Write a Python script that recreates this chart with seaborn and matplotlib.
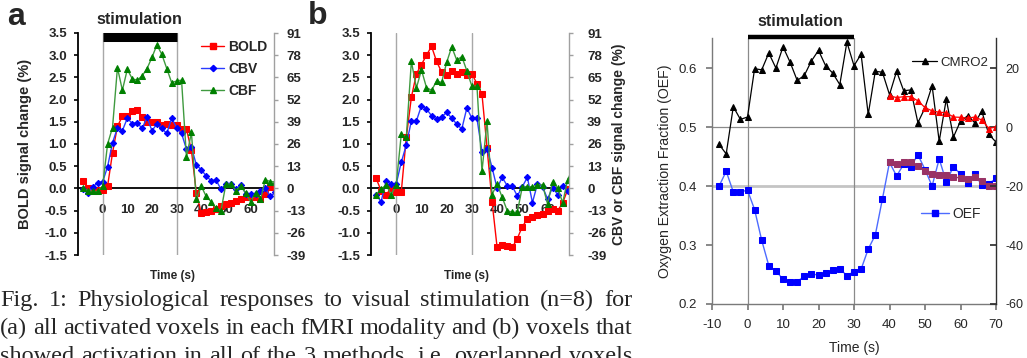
import matplotlib
matplotlib.use("Agg")
import matplotlib.pyplot as plt
import seaborn as sns
from matplotlib.lines import Line2D

# ---------------- data ----------------
time_s = list(range(-8, 71, 2))          # sampling grid (s), 40 points
late_time_s = list(range(40, 71, 2))     # post-stimulus fit segment, 16 points
stim_on, stim_off = 0, 30

# panel a : all activated voxels
a_bold = [0.17, 0.02, -0.03, -0.03, -0.03, 0.05, 0.80, 1.40, 1.62, 1.62,
          1.75, 1.77, 1.60, 1.50, 1.50, 1.50, 1.42, 1.45, 1.43, 1.42,
          1.33, 1.33, 0.86, -0.10, -0.56, -0.54, -0.52, -0.46, -0.40, -0.36,
          -0.32, -0.28, -0.24, -0.20, -0.20, -0.20, -0.24, -0.13, 0.04, 0.04]
a_cbv = [-0.5, -2.6, 0.8, 3.4, 3.9, 12.7, 26.8, 35.4, 33.8, 41.1,
         38.0, 38.5, 35.1, 41.6, 33.8, 37.7, 35.1, 32.2, 41.1, 35.6,
         32.2, 22.9, 24.2, 13.8, 10.9, 7.3, 4.4, 4.9, -0.5, 2.6,
         2.6, -0.5, 2.1, -3.1, -3.1, -3.1, -1.3, 0.0, -4.7, -2.3]
a_cbf = [0.0, -1.3, -1.8, -1.8, 1.3, 26.0, 35.6, 70.7, 57.5, 69.7,
         64.2, 63.4, 65.8, 70.2, 76.7, 84.0, 78.5, 70.2, 61.9, 62.9,
         63.4, 18.2, 32.8, -6.5, 1.3, -4.7, -7.8, -11.7, -13.0, 2.6,
         2.6, -1.3, 1.3, -2.6, -7.8, -2.6, -6.5, 5.2, 3.9, 3.9]

# panel b : overlapped voxels
b_bold = [0.23, -0.05, -0.15, 0.02, -0.08, -0.08, 1.15, 2.05, 2.58, 2.79,
          3.00, 3.20, 2.86, 2.62, 2.56, 2.64, 2.58, 2.62, 2.55, 2.58,
          2.36, 2.12, 0.92, -0.30, -1.33, -1.27, -1.30, -1.33, -1.13, -0.86,
          -0.69, -0.64, -0.60, -0.58, -0.50, -0.47, -0.50, -0.33, -0.02, -0.05]
b_cbv = [-3.6, -7.8, 4.4, 2.6, 2.6, 15.3, 25.5, 39.5, 39.5, 48.4,
         46.5, 42.6, 40.6, 41.9, 44.5, 41.1, 37.7, 34.8, 47.1, 41.1,
         41.1, 21.6, 23.1, 12.2, 0.0, 6.5, 1.6, 1.3, -4.4, 1.0,
         6.5, -8.3, 2.6, 1.0, -6.2, 0.5, -3.6, 1.6, -1.3, -2.6]
b_cbf = [-3.6, -0.5, 2.1, -3.6, 2.1, 31.7, 29.9, 74.4, 58.8, 69.4,
         59.0, 57.5, 62.7, 62.1, 73.8, 82.9, 75.1, 77.2, 68.9, 59.8,
         60.1, 9.9, 39.3, -3.6, 2.6, -5.2, -13.0, -14.0, -14.0, 1.0,
         1.0, 1.0, 2.1, 2.1, -9.1, 3.9, 0.0, -8.3, 5.2, 11.7]

# panel c : OEF and CMRO2
c_oef = [0.400, 0.425, 0.390, 0.390, 0.393, 0.360, 0.308, 0.265, 0.256, 0.242,
         0.238, 0.238, 0.247, 0.251, 0.249, 0.252, 0.257, 0.260, 0.248, 0.255,
         0.259, 0.293, 0.317, 0.378, 0.440, 0.417, 0.437, 0.433, 0.453, 0.428,
         0.400, 0.446, 0.407, 0.433, 0.420, 0.406, 0.421, 0.401, 0.404, 0.413]
c_cmro2 = [-5.9, -9.1, 6.9, 2.6, 3.4, 19.8, 19.4, 25.1, 20.0, 27.2,
           22.0, 15.8, 17.5, 22.4, 26.0, 20.8, 18.3, 14.4, 28.8, 20.8,
           24.7, 4.3, 18.9, 18.6, 11.0, 18.9, 12.3, 12.6, 1.5, 6.5,
           14.0, -4.8, 9.5, -3.4, 2.0, 3.8, 1.5, 5.3, -2.5, -5.1]
c_cmro2_fit = [10.6, 10.0, 10.3, 10.3, 8.9, 6.6, 5.5, 5.0, 4.9, 3.4,
               3.3, 3.0, 3.4, 2.4, -0.5, 0.1]
c_oef_fit = [0.440, 0.438, 0.440, 0.440, 0.434, 0.425, 0.421, 0.419, 0.418, 0.415,
             0.414, 0.412, 0.416, 0.409, 0.400, 0.400]

ab_left_ticks = [-1.5, -1.0, -0.5, 0.0, 0.5, 1.0, 1.5, 2.0, 2.5, 3.0, 3.5]
ab_right_ticks = [-39, -26, -13, 0, 13, 26, 39, 52, 65, 78, 91]
ab_x_ticks = [0, 10, 20, 30, 40, 50, 60]
c_left_ticks = [0.2, 0.3, 0.4, 0.5, 0.6]
c_right_ticks = [-60, -40, -20, 0, 20]
c_x_ticks = [-10, 0, 10, 20, 30, 40, 50, 60, 70]

caption = [
    "Fig. 1: Physiological responses to visual stimulation (n=8) for",
    "(a) all activated voxels in each fMRI modality and (b) voxels that",
    "showed activation in all of the 3 methods, i.e. overlapped voxels",
]

# ---------------- style ----------------
sns.set_theme(style="white")
plt.rcParams["font.family"] = ["Liberation Sans", "DejaVu Sans"]

W, H = 1027, 358
fig = plt.figure(figsize=(W / 100, H / 100), dpi=100)


def axes_px(l, t, r, b):
    return fig.add_axes([l / W, 1 - b / H, (r - l) / W, (b - t) / H])


RED, BLUE, GREEN = "#ff0000", "#0000ff", "#008000"
TICKFS = 9.5


def panel_ab(box, bold, cbv, cbf, xlim, right_label=None, legend=False, stim=False,
             rpad=6):
    ax = axes_px(*box)
    ax.set_xlim(*xlim)
    ax.set_ylim(-1.5, 3.5)
    ax2 = ax.twinx()
    ax2.set_ylim(-39, 91)

    for xv in (stim_on, stim_off):
        ax.axvline(xv, color="#a8a8a8", lw=1.0, zorder=1)

    sns.lineplot(x=time_s, y=bold, ax=ax, color=RED, marker="s", markersize=3.8,
                 markeredgecolor=RED, linewidth=1.0, legend=False, zorder=3)
    sns.lineplot(x=time_s, y=cbv, ax=ax2, color="#2a3cff", marker="D", markersize=3.2,
                 markerfacecolor=BLUE, markeredgecolor=BLUE, linewidth=1.0, legend=False)
    sns.lineplot(x=time_s, y=cbf, ax=ax2, color="#3f9a3f", marker="^", markersize=4.5,
                 markerfacecolor=GREEN, markeredgecolor=GREEN, linewidth=1.0, legend=False)

    for s in ("top", "right"):
        ax.spines[s].set_visible(False)
    ax.spines["left"].set_color("black")
    ax.spines["left"].set_linewidth(1.3)
    ax.spines["bottom"].set_position(("data", 0))
    ax.spines["bottom"].set_color("black")
    ax.spines["bottom"].set_linewidth(1.3)
    for s in ("top", "left", "bottom"):
        ax2.spines[s].set_visible(False)
    ax2.spines["right"].set_color("#a0a0a0")
    ax2.spines["right"].set_linewidth(1.0)

    ax.set_yticks(ab_left_ticks, labels=[f"{v:.1f}" for v in ab_left_ticks],
                  fontsize=TICKFS, fontweight="bold")
    ax.set_xticks(ab_x_ticks, labels=[str(v) for v in ab_x_ticks],
                  fontsize=TICKFS, fontweight="bold")
    ax.tick_params(axis="y", left=True, direction="out", length=3, width=1.2,
                   color="black", pad=5)
    ax.tick_params(axis="x", bottom=True, length=0, pad=11)
    ax2.set_yticks(ab_right_ticks, labels=[str(v) for v in ab_right_ticks],
                   fontsize=TICKFS, fontweight="bold")
    ax2.tick_params(axis="y", right=True, direction="out", length=3, width=1.0,
                    color="#a0a0a0", pad=rpad)
    ax.set_xlabel("")
    ax.set_ylabel("")
    ax2.set_ylabel("")

    if stim:
        tr = ax.get_xaxis_transform()
        ax.plot([stim_on, stim_off], [0.981, 0.981], transform=tr, color="black",
                lw=6.5, solid_capstyle="butt", clip_on=False, zorder=5)
        ax.text((stim_on + stim_off) / 2, 1.062, "stimulation", transform=tr,
                ha="center", va="center", fontsize=11.5, fontweight="bold")
    if legend:
        handles = [
            Line2D([], [], color=RED, marker="s", markersize=3.8, lw=1.0),
            Line2D([], [], color="#2a3cff", marker="D", markersize=3.2,
                   markerfacecolor=BLUE, markeredgecolor=BLUE, lw=1.0),
            Line2D([], [], color="#3f9a3f", marker="^", markersize=4.5,
                   markerfacecolor=GREEN, markeredgecolor=GREEN, lw=1.0),
        ]
        ax2.legend(handles, ["BOLD", "CBV", "CBF"], loc="upper left",
                   bbox_to_anchor=(0.63, 0.97), frameon=False,
                   borderpad=0, borderaxespad=0, handlelength=1.6,
                   handletextpad=0.35, labelspacing=0.6,
                   prop={"size": 10, "weight": "bold"})
    if right_label:
        ax2.set_ylabel(right_label, fontsize=10, fontweight="bold")
        ax2.yaxis.set_label_coords(1.215, 0.5)
    return ax, ax2


ax_a, _ = panel_ab((78, 33, 274, 255), a_bold, a_cbv, a_cbf, (-10, 69.5),
                   legend=True, stim=True, rpad=6)
ax_a.set_ylabel("BOLD signal change (%)", fontsize=10.5, fontweight="bold")
ax_a.yaxis.set_label_coords(-0.235, 0.5)

ax_b, _ = panel_ab((371, 33, 569, 255), b_bold, b_cbv, b_cbf, (-10, 68.5),
                   right_label="CBV or CBF signal change (%)", rpad=10)

fig.text(172 / W, 1 - 276 / H, "Time (s)", ha="center", va="center",
         fontsize=8.5, fontweight="bold")
fig.text(467 / W, 1 - 276 / H, "Time (s)", ha="center", va="center",
         fontsize=8.5, fontweight="bold")
fig.text(16 / W, 1 - 17 / H, "a", ha="center", va="center", fontsize=23, fontweight="bold")
fig.text(318 / W, 1 - 16 / H, "b", ha="center", va="center", fontsize=23, fontweight="bold")

# ---------------- panel c ----------------
axc = axes_px(712, 38, 996, 304)
axc.set_xlim(-10, 70)
axc.set_ylim(0.2, 0.651)
axc2 = axc.twinx()
axc2.set_ylim(-60, 30.2)

axc.axhline(0.5, color="#8a8a8a", lw=0.9, zorder=1)
axc.axhline(0.4, color="#c4c4c4", lw=2.0, zorder=1)
for xv in (stim_on, stim_off):
    axc.axvline(xv, color="#8a8a8a", lw=0.9, zorder=1)

sns.lineplot(x=time_s, y=c_oef, ax=axc, color="#4d6bff", marker="s", markersize=4.2,
             markerfacecolor=BLUE, markeredgecolor=BLUE, linewidth=1.0, legend=False, zorder=3)
sns.lineplot(x=late_time_s, y=c_oef_fit, ax=axc, color="#993366", marker="s", markersize=4.2,
             markeredgecolor="#993366", linewidth=1.0, legend=False, zorder=4)
sns.lineplot(x=time_s, y=c_cmro2, ax=axc2, color="black", marker="^", markersize=4.5,
             markeredgecolor="black", linewidth=0.9, legend=False)
sns.lineplot(x=late_time_s, y=c_cmro2_fit, ax=axc2, color=RED, marker="^", markersize=4.8,
             markeredgecolor=RED, linewidth=0.9, legend=False)

axc.spines["top"].set_visible(False)
axc.spines["right"].set_visible(False)
axc.spines["left"].set_color("#7a7a7a")
axc.spines["bottom"].set_color("#7a7a7a")
for s in ("top", "left", "bottom"):
    axc2.spines[s].set_visible(False)
axc2.spines["right"].set_color("#303030")
for s in ("left", "bottom"):
    axc.spines[s].set_linewidth(1.0)
axc2.spines["right"].set_linewidth(1.0)

CFS = 9.5
axc.set_xticks(c_x_ticks, labels=[str(v) for v in c_x_ticks], fontsize=CFS)
axc.set_yticks(c_left_ticks, labels=[f"{v:.1f}" for v in c_left_ticks], fontsize=CFS)
axc.tick_params(axis="x", bottom=True, direction="out", length=4, color="#7a7a7a", pad=7)
axc.tick_params(axis="y", left=True, direction="out", length=4, color="#7a7a7a", pad=7)
axc2.set_yticks(c_right_ticks, labels=[str(v) for v in c_right_ticks], fontsize=9)
axc2.tick_params(axis="y", right=True, direction="in", length=4, color="#303030", pad=7)
axc.set_xlabel("")
axc.set_ylabel("Oxygen Extraction Fraction (OEF)", fontsize=10.2)
axc.yaxis.set_label_coords(-0.14, 0.5)
axc2.set_ylabel("")
fig.text(854 / W, 1 - 348 / H, "Time (s)", ha="center", va="center", fontsize=10)

trc = axc.get_xaxis_transform()
axc.plot([stim_on, stim_off], [1.004, 1.004], transform=trc, color="black", lw=3.2,
         solid_capstyle="butt", clip_on=False, zorder=5)
axc.text((stim_on + stim_off) / 2, 1.062, "stimulation", transform=trc, ha="center",
         va="center", fontsize=11.5, fontweight="bold")

axc2.legend([Line2D([], [], color="black", marker="^", markersize=4.5, lw=0.9)],
            ["CMRO2"], loc="center left", bbox_to_anchor=(0.705, 0.908),
            frameon=False, borderpad=0, borderaxespad=0, handlelength=1.9,
            handletextpad=0.25, prop={"size": 9.5})
axc.legend([Line2D([], [], color="#4d6bff", marker="s", markersize=4.2,
                   markerfacecolor=BLUE, markeredgecolor=BLUE, lw=1.0)],
           ["OEF"], loc="center left", bbox_to_anchor=(0.737, 0.338),
           frameon=False, borderpad=0, borderaxespad=0, handlelength=2.0,
           handletextpad=0.25, prop={"size": 10})

# ---------------- caption (justified serif text) ----------------
renderer = fig.canvas.get_renderer()
CAP_FS = 17.5
cap_x0, cap_x1 = 0, 632
cap_baselines = [306, 334, 362]


def put_line(text, y_px, justify):
    words = text.split(" ")
    arts = [fig.text(0, 1 - y_px / H, w, fontsize=CAP_FS, family="Liberation Serif",
                     va="baseline", ha="left") for w in words]
    widths = [a.get_window_extent(renderer).width for a in arts]
    if justify and len(words) > 1:
        gap = (cap_x1 - cap_x0 - sum(widths)) / (len(words) - 1)
    else:
        gap = 0.25 * CAP_FS * 100 / 72
    x = cap_x0
    for a, w in zip(arts, widths):
        a.set_x(x / W)
        x += w + gap


put_line(caption[0], cap_baselines[0], True)
put_line(caption[1], cap_baselines[1], True)
put_line(caption[2], cap_baselines[2], True)

fig.savefig("out.png", dpi=100)
